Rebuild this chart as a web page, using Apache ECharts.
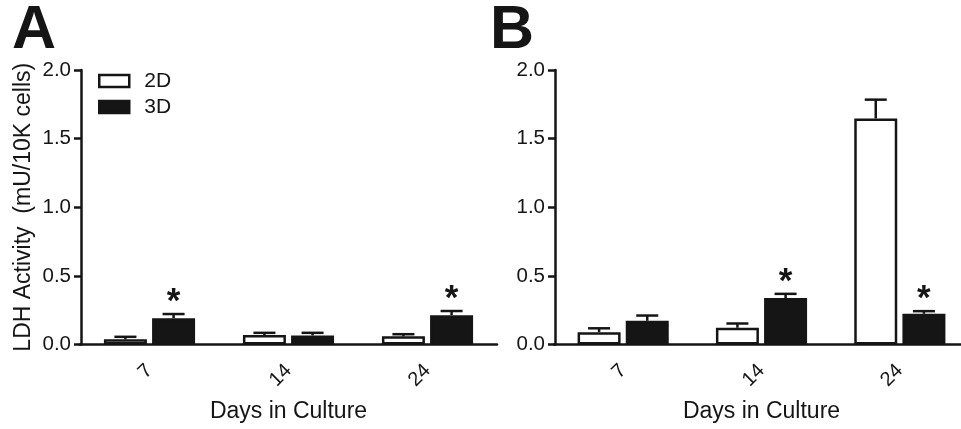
<!DOCTYPE html>
<html>
<head>
<meta charset="utf-8">
<script src="https://cdn.jsdelivr.net/npm/echarts@6/dist/echarts.min.js"></script>
<style>
    html, body { margin: 0; padding: 0; background: #fff; }
    #chart { width: 961px; height: 429px; }
</style>
</head>
<body>
<div id="chart"></div>
<script>
// categories
var days = ['7', '14', '24'];

// panel A - LDH activity, mean and upper error
var a2D = [0.038, 0.069, 0.060];
var a2DErr = [0.018, 0.016, 0.015];
var a3D = [0.192, 0.066, 0.214];
var a3DErr = [0.030, 0.019, 0.030];
var a3DStar = [1, 0, 1];

// panel B
var b2D = [0.090, 0.122, 1.647];
var b2DErr = [0.028, 0.031, 0.137];
var b3D = [0.173, 0.338, 0.224];
var b3DErr = [0.038, 0.031, 0.019];
var b3DStar = [0, 1, 1];

// y axis ticks
var yMin = 0, yMax = 2, yStep = 0.5;

var FONT = '"Liberation Sans", Arial, sans-serif';
var INK = '#151515';
var BAR_W = 43;
var BAR_GAP = 0.12;
var CAP = 22;

var chart = echarts.init(document.getElementById('chart'));

function barSeries(name, idx, data, filled) {
    return {
        name: name,
        type: 'bar',
        xAxisIndex: idx,
        yAxisIndex: idx,
        data: data,
        barWidth: BAR_W,
        barGap: (BAR_GAP * 100) + '%',
        silent: true,
        itemStyle: {
            color: filled ? INK : '#fff',
            borderColor: INK,
            borderWidth: 2.5
        }
    };
}

// error bar (up only) + optional asterisk, drawn through the axes
function errSeries(idx, means, errs, stars, side) {
    var rows = means.map(function (m, i) {
        return [i, m, errs[i], stars ? stars[i] : 0];
    });
    return {
        type: 'custom',
        xAxisIndex: idx,
        yAxisIndex: idx,
        z: 5,
        silent: true,
        data: rows,
        encode: {x: 0, y: 1},
        renderItem: function (params, api) {
            var i = api.value(0);
            var base = api.coord([i, api.value(1)]);
            var top = api.coord([i, api.value(1) + api.value(2)]);
            var cx = base[0] + side * BAR_W * (1 + BAR_GAP) / 2;
            var st = {stroke: INK, lineWidth: 2.5};
            var kids = [
                {type: 'line', shape: {x1: cx, y1: base[1], x2: cx, y2: top[1]}, style: st},
                {type: 'line', shape: {x1: cx - CAP / 2, y1: top[1], x2: cx + CAP / 2, y2: top[1]}, style: st}
            ];
            if (api.value(3)) {
                kids.push({
                    type: 'text',
                    x: cx,
                    y: top[1] - 12,
                    style: {text: '*', font: 'bold 35px ' + FONT, fill: INK, align: 'center', verticalAlign: 'middle'}
                });
            }
            return {type: 'group', children: kids};
        }
    };
}

function xAxisOf(idx) {
    return {
        type: 'category',
        gridIndex: idx,
        data: days,
        boundaryGap: true,
        name: 'Days in Culture',
        nameLocation: 'middle',
        nameGap: 56,
        nameTextStyle: {fontFamily: FONT, fontSize: 23, color: INK},
        axisLine: {lineStyle: {color: INK, width: 2.5}},
        axisTick: {alignWithLabel: true, length: 7, lineStyle: {color: INK, width: 2.5}},
        axisLabel: {interval: 0, rotate: 45, margin: 23, fontFamily: FONT, fontSize: 20, color: INK},
        splitLine: {show: false}
    };
}

function yAxisOf(idx, title) {
    return {
        type: 'value',
        gridIndex: idx,
        min: yMin,
        max: yMax,
        interval: yStep,
        offset: -1,
        name: title,
        nameLocation: 'middle',
        nameGap: 46,
        nameTextStyle: {fontFamily: FONT, fontSize: 23, color: INK},
        axisLine: {show: true, lineStyle: {color: INK, width: 2.5}},
        axisTick: {show: true, length: 7, lineStyle: {color: INK, width: 2.5}},
        axisLabel: {margin: 10, fontFamily: FONT, fontSize: 20.5, color: INK, formatter: function (v) { return v.toFixed(1); }},
        splitLine: {show: false}
    };
}

var option = {
    backgroundColor: '#fff',
    animation: false,
    textStyle: {fontFamily: FONT},
    graphic: [
        {type: 'text', left: 12, top: 1, style: {text: 'A', font: 'bold 61px ' + FONT, fill: INK}},
        {type: 'text', left: 490, top: 1, style: {text: 'B', font: 'bold 61px ' + FONT, fill: INK}}
    ],
    legend: {
        orient: 'vertical',
        left: 98,
        top: 70,
        padding: 0,
        itemWidth: 30,
        itemHeight: 12,
        itemGap: 4,
        selectedMode: false,
        textStyle: {fontFamily: FONT, fontSize: 21, color: INK, lineHeight: 22, padding: [0, 0, 0, 10]},
        data: [
            {name: '2D', icon: 'rect', itemStyle: {color: '#fff', borderColor: INK, borderWidth: 2.5}},
            {name: '3D', icon: 'rect', itemStyle: {color: INK, borderColor: INK, borderWidth: 2.5}}
        ]
    },
    grid: [
        {left: 80, top: 70, width: 417, height: 274.5, outerBoundsMode: 'none', containLabel: false},
        {left: 554, top: 70, width: 415, height: 274.5, outerBoundsMode: 'none', containLabel: false}
    ],
    xAxis: [xAxisOf(0), xAxisOf(1)],
    yAxis: [yAxisOf(0, 'LDH Activity  (mU/10K cells)'), yAxisOf(1, '')],
    series: [
        barSeries('2D', 0, a2D, false),
        barSeries('3D', 0, a3D, true),
        errSeries(0, a2D, a2DErr, null, -1),
        errSeries(0, a3D, a3DErr, a3DStar, 1),
        barSeries('2D', 1, b2D, false),
        barSeries('3D', 1, b3D, true),
        errSeries(1, b2D, b2DErr, null, -1),
        errSeries(1, b3D, b3DErr, b3DStar, 1)
    ]
};

chart.setOption(option);
</script>
</body>
</html>
